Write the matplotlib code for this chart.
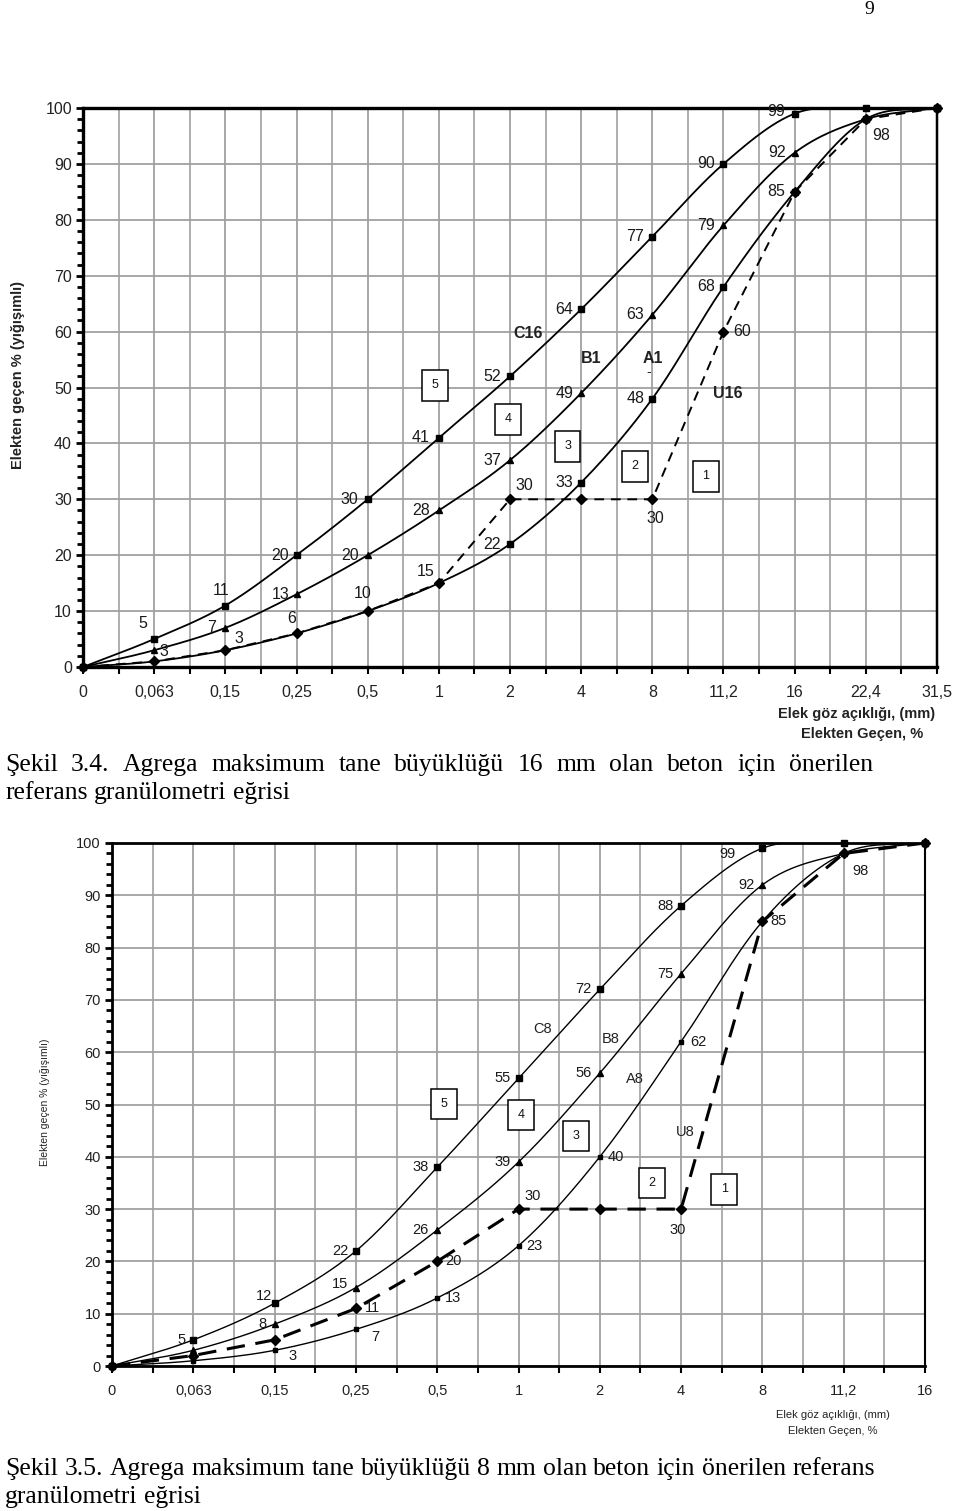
import numpy as np
import matplotlib
matplotlib.use('Agg')
import matplotlib.pyplot as plt
from matplotlib.ticker import MultipleLocator, FixedLocator

plt.rcParams['font.family'] = ['Liberation Sans', 'DejaVu Sans']

# Şekil 3.4 - Dmax 16 mm
sieve_16 = ['0', '0,063', '0,15', '0,25', '0,5', '1', '2', '4', '8', '11,2', '16', '22,4', '31,5']
c16 = [0, 5, 11, 20, 30, 41, 52, 64, 77, 90, 99, 100, 100]
b1 = [0, 3, 7, 13, 20, 28, 37, 49, 63, 79, 92, 98, 100]
a1 = [0, 1, 3, 6, 10, 15, 22, 33, 48, 68, 85, 98, 100]
u16 = [0, 1, 3, 6, 10, 15, 30, 30, 30, 60, 85, 98, 100]

# Şekil 3.5 - Dmax 8 mm
sieve_8 = ['0', '0,063', '0,15', '0,25', '0,5', '1', '2', '4', '8', '11,2', '16']
c8 = [0, 5, 12, 22, 38, 55, 72, 88, 99, 100, 100]
b8 = [0, 3, 8, 15, 26, 39, 56, 75, 92, 98, 100]
a8 = [0, 1, 3, 7, 13, 23, 40, 62, 85, 98, 100]
u8 = [0, 2, 5, 11, 20, 30, 30, 30, 85, 98, 100]

zones = ['1', '2', '3', '4', '5']

# etiket kaymalari (piksel): (nokta indeksi, dx, dy)
lab_c16 = [(1, -11, 16), (2, -4, 15), (3, -16, 0), (4, -18, 0), (5, -18, 0), (6, -18, 0),
           (7, -17, 0), (8, -17, 0), (9, -17, 0), (10, -19, 2)]
lab_b1 = [(1, 10, -1), (2, -14, 0), (3, -16, 0), (4, -18, 0), (5, -18, 0), (6, -18, 0),
          (7, -17, 0), (8, -17, 0), (9, -17, 0), (10, -18, 0)]
lab_a1 = [(2, 14, 12), (3, -5, 15), (4, -5, 18), (5, -13, 12), (6, -18, 0), (7, -17, 0),
          (8, -17, 0), (9, -17, 0), (10, -18, 0), (11, 15, -16)]
lab_u16 = [(6, 14, 14), (8, 3, -19), (9, 19, 0)]

lab_c8 = [(1, -12, 0), (2, -11, 7), (3, -16, 0), (4, -17, 0), (5, -16, 0), (6, -16, 0),
          (7, -16, 0), (8, -35, -6)]
lab_b8 = [(2, -12, 0), (3, -16, 4), (4, -17, 0), (5, -16, 0), (6, -16, 0), (7, -16, 0), (8, -16, 0)]
lab_a8 = [(2, 18, -6), (3, 19, -8), (4, 16, 0), (5, 16, 0), (6, 16, 0), (7, 17, 0), (8, 16, 0),
          (9, 17, -18)]
lab_u8 = [(3, 17, 0), (4, 16, 0), (5, 14, 13), (7, -3, -21)]

cap1 = ['Şekil 3.4. Agrega maksimum tane büyüklüğü 16 mm olan beton için önerilen',
        'referans granülometri eğrisi']
cap2 = ['Şekil 3.5. Agrega maksimum tane büyüklüğü 8 mm olan beton için önerilen referans',
        'granülometri eğrisi']


def smooth(y, n=30):
    # Excel tarzi yumusak egri (Hermite / Catmull-Rom)
    y = np.asarray(y, float)
    k = len(y)
    m = np.zeros(k)
    m[1:-1] = (y[2:] - y[:-2]) / 2
    m[0] = y[1] - y[0]
    m[-1] = y[-1] - y[-2]
    t = np.linspace(0, 1, n)
    h00 = 2 * t**3 - 3 * t**2 + 1
    h10 = t**3 - 2 * t**2 + t
    h01 = -2 * t**3 + 3 * t**2
    h11 = t**3 - t**2
    xs, ys = [], []
    for i in range(k - 1):
        xs.append(i + t)
        ys.append(h00 * y[i] + h10 * m[i] + h01 * y[i + 1] + h11 * m[i + 1])
    return np.concatenate(xs), np.concatenate(ys)


def setup_axes(ax, cats, fs, spine_w):
    n = len(cats)
    ax.set_xlim(0, n - 1)
    ax.set_ylim(0, 100)
    ax.set_xticks(range(n))
    ax.set_xticklabels(cats, fontsize=fs, color='#222222')
    ax.xaxis.set_minor_locator(FixedLocator(np.arange(0.5, n - 1, 1)))
    ax.yaxis.set_major_locator(MultipleLocator(10))
    ax.yaxis.set_minor_locator(MultipleLocator(2))
    ax.tick_params(axis='y', which='major', labelsize=fs, labelcolor='#222222',
                   length=5, width=2, direction='out', pad=3)
    ax.tick_params(axis='y', which='minor', length=4, width=2, direction='out')
    ax.tick_params(axis='x', which='major', length=5, width=1.5, direction='out', pad=8)
    ax.tick_params(axis='x', which='minor', length=5, width=1.5, direction='out')
    ax.grid(which='major', axis='both', color='#a0a0a0', lw=1.3)
    ax.grid(which='minor', axis='x', color='#a8a8a8', lw=1.3)
    ax.set_axisbelow(True)
    for s in ['left', 'bottom', 'top']:
        ax.spines[s].set_linewidth(spine_w)
    ax.spines['right'].set_linewidth(spine_w * 0.75)


def put_labels(ax, vals, labs, fs):
    for i, dx, dy in labs:
        ax.annotate(str(vals[i]), (i, vals[i]), xytext=(dx, dy), textcoords='offset pixels',
                    ha='center', va='center', fontsize=fs, color='#1a1a1a')


def put_box(ax, x, y, txt, fs):
    ax.text(x, y, txt, ha='center', va='center', fontsize=fs, color='#111111',
            bbox=dict(boxstyle='square,pad=0.75', fc='white', ec='black', lw=1.1))


def word_widths(fig, words, size):
    r = fig.canvas.get_renderer()
    objs = [fig.text(0, 0, w, fontsize=size, family='Liberation Serif',
                     va='baseline', ha='left') for w in words]
    widths = [o.get_window_extent(renderer=r).width for o in objs]
    return objs, widths


def fit_size(fig, text, target, size=14.0):
    objs, widths = word_widths(fig, text.split(' '), size)
    for o in objs:
        o.remove()
    natural = sum(widths) + size * 100 / 72 * 0.25 * (len(widths) - 1)
    return size * target / natural


def caption_line(fig, text, x0, x1, y, size, justify):
    words = text.split(' ')
    objs, widths = word_widths(fig, words, size)
    if justify:
        gap = (x1 - x0 - sum(widths)) / (len(words) - 1)
    else:
        gap = size * 100 / 72 * 0.25
    x = x0
    for o, w in zip(objs, widths):
        o.set_x(x / 960)
        o.set_y(1 - y / 1511)
        x += w + gap


fig = plt.figure(figsize=(9.6, 15.11), dpi=100)

# ---------------- Şekil 3.4 ----------------
ax1 = fig.add_axes([83 / 960, 1 - 667 / 1511, 854 / 960, 559 / 1511])
setup_axes(ax1, sieve_16, 11.5, 2.4)
xs, ys = smooth(c16)
ax1.plot(xs, ys, color='black', lw=1.3)
xs, ys = smooth(b1)
ax1.plot(xs, ys, color='black', lw=1.3)
xs, ys = smooth(a1)
ax1.plot(xs, ys, color='black', lw=1.3)
ax1.plot(range(len(u16)), u16, color='black', lw=1.4, ls=(0, (5, 3.5)))
ax1.plot(range(len(c16)), c16, ls='none', marker='s', ms=4, color='black', clip_on=False)
ax1.plot(range(len(b1)), b1, ls='none', marker='^', ms=4, color='black', clip_on=False)
ax1.plot(range(6, len(a1)), a1[6:], ls='none', marker='s', ms=4, color='black', clip_on=False)
ax1.plot(range(len(u16)), u16, ls='none', marker='D', ms=5.5, color='black', clip_on=False)
put_labels(ax1, c16, lab_c16, 11.5)
put_labels(ax1, b1, lab_b1, 11.5)
put_labels(ax1, a1, lab_a1, 11.5)
put_labels(ax1, u16, lab_u16, 11.5)
ax1.text(6.25, 59.6, 'C16', ha='center', va='center', fontsize=11.5, fontweight='bold', color='#222222')
ax1.text(7.14, 55.1, 'B1', ha='center', va='center', fontsize=11.5, fontweight='bold', color='#222222')
ax1.text(8.01, 55.1, 'A1', ha='center', va='center', fontsize=11.5, fontweight='bold', color='#222222')
ax1.text(7.95, 52.8, '-', ha='center', va='center', fontsize=10, color='#222222')
ax1.text(9.06, 49.0, 'U16', ha='center', va='center', fontsize=11.5, fontweight='bold', color='#222222')
for z, (bx, by) in zip(zones, [(8.75, 34.1), (7.76, 35.9), (6.81, 39.5), (5.97, 44.3), (4.95, 50.4)]):
    put_box(ax1, bx, by, z, 9)
fig.text(18 / 960, 1 - 375 / 1511, 'Elekten geçen % (yığışımlı)', rotation=90, ha='center',
         va='center', fontsize=10.5, fontweight='bold', color='#222222')
fig.text(857 / 960, 1 - 714 / 1511, 'Elek göz açıklığı, (mm)', ha='center', va='center',
         fontsize=10.5, fontweight='bold', color='#222222')
fig.text(862 / 960, 1 - 734 / 1511, 'Elekten Geçen, %', ha='center', va='center',
         fontsize=10.5, fontweight='bold', color='#222222')

# ---------------- Şekil 3.5 ----------------
ax2 = fig.add_axes([112 / 960, 1 - 1366 / 1511, 813 / 960, 523 / 1511])
setup_axes(ax2, sieve_8, 10.5, 2.0)
for ser in [c8, b8, a8]:
    xs, ys = smooth(ser)
    ax2.plot(xs, ys, color='black', lw=1.0)
ax2.plot(range(len(u8)), u8, color='black', lw=2.2, ls=(0, (6, 3.5)))
ax2.plot(range(len(c8)), c8, ls='none', marker='s', ms=4, color='black', clip_on=False)
ax2.plot(range(len(b8)), b8, ls='none', marker='^', ms=4, color='black', clip_on=False)
ax2.plot(range(len(a8)), a8, ls='none', marker='s', ms=3.5, color='black', clip_on=False)
ax2.plot(range(len(u8)), u8, ls='none', marker='D', ms=5, color='black', clip_on=False)
put_labels(ax2, c8, lab_c8, 10.5)
put_labels(ax2, b8, lab_b8, 10.5)
put_labels(ax2, a8, lab_a8, 10.5)
put_labels(ax2, u8, lab_u8, 10.5)
ax2.text(5.29, 64.4, 'C8', ha='center', va='center', fontsize=10.5, color='#222222')
ax2.text(6.13, 62.5, 'B8', ha='center', va='center', fontsize=10.5, color='#222222')
ax2.text(6.43, 54.9, 'A8', ha='center', va='center', fontsize=10.5, color='#222222')
ax2.text(7.05, 44.7, 'U8', ha='center', va='center', fontsize=10.5, color='#222222')
for z, (bx, by) in zip(zones, [(7.53, 33.8), (6.64, 35.0), (5.71, 44.0), (5.03, 48.0), (4.08, 50.1)]):
    put_box(ax2, bx, by, z, 9)
fig.text(45 / 960, 1 - 1102 / 1511, 'Elekten geçen % (yığışımlı)', rotation=90, ha='center',
         va='center', fontsize=7.5, color='#222222')
fig.text(833 / 960, 1 - 1415 / 1511, 'Elek göz açıklığı, (mm)', ha='center', va='center',
         fontsize=8, color='#222222')
fig.text(833 / 960, 1 - 1431 / 1511, 'Elekten Geçen, %', ha='center', va='center',
         fontsize=8, color='#222222')

# sayfa no ve sekil altyazilari
fig.text(869 / 960, 1 - 10 / 1511, '9', ha='center', va='center', fontsize=14,
         family='Liberation Serif')
cs = min(fit_size(fig, cap2[0], 870), 18.5)
caption_line(fig, cap1[0], 5, 873, 771, cs, True)
caption_line(fig, cap1[1], 5, 873, 799, cs, False)
caption_line(fig, cap2[0], 5, 875, 1475, cs, True)
caption_line(fig, cap2[1], 5, 875, 1503, cs, False)

fig.savefig('out.png', dpi=100)
